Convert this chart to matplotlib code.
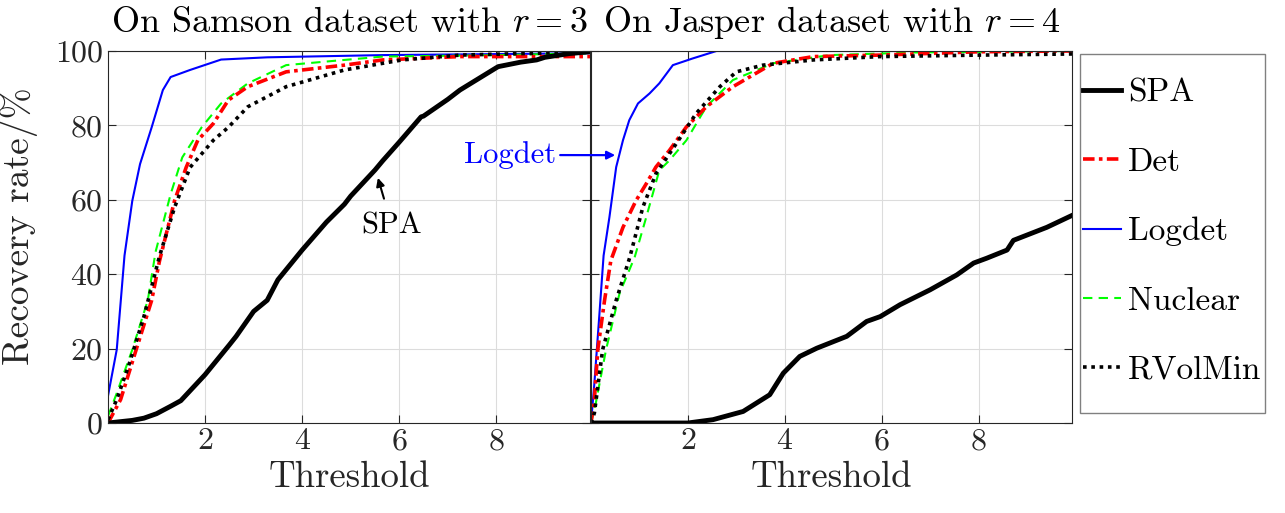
import matplotlib
matplotlib.use('Agg')
import matplotlib.pyplot as plt
from matplotlib.patches import Rectangle

plt.rcParams['font.family'] = 'serif'
plt.rcParams['font.serif'] = ['cmr10']
plt.rcParams['mathtext.fontset'] = 'cm'
plt.rcParams['axes.formatter.use_mathtext'] = True

# Samson, r = 3
sam_spa_x = [0, 0.5, 0.74, 1, 1.29, 1.5, 2, 2.5, 2.64, 3, 3.28, 3.5, 4, 4.5, 4.87, 5, 5.5, 5.66,
             6, 6.45, 6.5, 7, 7.25, 7.5, 8, 8.04, 8.5, 8.83, 9, 9.5, 9.93]
sam_spa_y = [0, 0.7, 1.3, 2.5, 4.5, 6, 13, 21, 23.3, 30, 33, 38.5, 46.5, 54, 58.8, 61, 68, 70.5,
             75.5, 82.3, 82.5, 87, 89.5, 91.5, 95.5, 95.8, 97, 97.6, 98.3, 99.3, 99.8]
sam_det_x = [0, 0.26, 0.58, 0.9, 1.06, 1.37, 1.61, 1.85, 2.17, 2.48, 2.88, 3.67, 4.87, 5.66, 7.25, 9.93]
sam_det_y = [0, 6.3, 19.7, 33, 43.5, 59.7, 68.7, 76, 80.5, 86.8, 90.4, 94.4, 96.2, 97.6, 98.5, 98.5]
sam_log_x = [0, 0.18, 0.34, 0.5, 0.66, 0.9, 1.13, 1.29, 1.69, 2.33, 3.28, 5.66, 9.93]
sam_log_y = [7.3, 19.7, 45, 59.7, 69.6, 79.5, 89.5, 93, 94.9, 97.7, 98.3, 98.9, 99.4]
sam_nuc_x = [0, 0.18, 0.5, 0.82, 0.98, 1.29, 1.53, 1.93, 2.33, 2.88, 3.67, 4.87, 5.66, 8.04, 9.93]
sam_nuc_y = [1.8, 8, 19.7, 33, 46, 61.5, 71.4, 79.5, 85.9, 91.3, 96.2, 97.6, 98.5, 98.9, 99.4]
sam_rvm_x = [0, 0.18, 0.42, 0.74, 1.06, 1.37, 1.69, 2.17, 2.48, 2.88, 3.67, 4.87, 6.06, 7.25, 8.83, 9.93]
sam_rvm_y = [0.9, 6.3, 15.2, 28.6, 44.8, 57.9, 68.7, 76, 79.5, 85, 90.4, 94.9, 97.6, 98.9, 99.4, 99.8]

# Jasper, r = 4
jas_spa_x = [0, 2, 2.52, 3.14, 3.69, 3.97, 4.31, 4.66, 5.28, 5.69, 5.97, 6.38, 7.0, 7.55, 7.9,
             8.17, 8.59, 8.72, 9.41, 9.93]
jas_spa_y = [0, 0, 0.9, 3.1, 7.6, 13.4, 17.9, 20.1, 23.3, 27.3, 28.6, 31.8, 35.8, 39.8, 43,
             44.3, 46.5, 49.1, 52.6, 55.8]
jas_det_x = [0, 0.07, 0.14, 0.28, 0.41, 0.66, 0.93, 1.14, 1.34, 1.62, 1.97, 2.38, 2.93, 3.76,
             4.59, 5.97, 8.03, 9.93]
jas_det_y = [0, 6.3, 19.7, 33, 43.7, 52.6, 59.8, 64.3, 68.8, 73.3, 79.6, 85, 90.4, 96.7,
             98.5, 98.9, 99.8, 100]
jas_log_x = [0, 0.07, 0.17, 0.26, 0.38, 0.52, 0.66, 0.79, 0.97, 1.21, 1.41, 1.69, 2.1, 2.59, 9.93]
jas_log_y = [0, 10.7, 28.6, 45, 55.3, 68.8, 76, 81.4, 85.9, 88.6, 91.3, 96.2, 98, 100, 100]
jas_nuc_x = [0, 0.1, 0.31, 0.59, 0.9, 1.14, 1.41, 1.62, 1.97, 2.38, 2.93, 3.76, 4.93, 6.66, 9.93]
jas_nuc_y = [0, 5.4, 19.7, 34.9, 44.5, 55.3, 67.9, 70.6, 76, 85, 92.2, 96.7, 98.9, 99.6, 100]
jas_rvm_x = [0, 0.07, 0.24, 0.52, 0.8, 1.07, 1.34, 1.76, 2.17, 2.66, 3.0, 3.55, 4.59, 5.97, 8.03, 9.93]
jas_rvm_y = [0, 2.7, 19.7, 33, 44.5, 58, 67, 75.1, 83.2, 90.4, 94.4, 96.2, 97.6, 98.5, 98.9, 99.2]

methods = ['SPA', 'Det', 'Logdet', 'Nuclear', 'RVolMin']
styles = {
    'SPA': dict(color='black', ls='-', lw=3.5),
    'Det': dict(color='red', ls=(0, (3.2, 1.2, 1, 1.2)), lw=2.6),
    'Logdet': dict(color='blue', ls='-', lw=1.5),
    'Nuclear': dict(color=(0, 1, 0), ls=(0, (4.5, 3)), lw=1.5),
    'RVolMin': dict(color='black', ls=(0, (1, 1.3)), lw=2.6),
}
samson = {
    'SPA': (sam_spa_x, sam_spa_y), 'Det': (sam_det_x, sam_det_y), 'Logdet': (sam_log_x, sam_log_y),
    'Nuclear': (sam_nuc_x, sam_nuc_y), 'RVolMin': (sam_rvm_x, sam_rvm_y),
}
jasper = {
    'SPA': (jas_spa_x, jas_spa_y), 'Det': (jas_det_x, jas_det_y), 'Logdet': (jas_log_x, jas_log_y),
    'Nuclear': (jas_nuc_x, jas_nuc_y), 'RVolMin': (jas_rvm_x, jas_rvm_y),
}

fig = plt.figure(figsize=(12.85, 5.13), dpi=100)
ax1 = fig.add_axes([108 / 1285, 1 - 423 / 513, 482 / 1285, 372 / 513])
ax2 = fig.add_axes([591 / 1285, 1 - 423 / 513, 481 / 1285, 372 / 513])

tick_col = '#262626'
for ax, data, title in [(ax1, samson, r'On Samson dataset with $r=3$'),
                        (ax2, jasper, r'On Jasper dataset with $r=4$')]:
    for m in ['Logdet', 'Nuclear', 'Det', 'RVolMin', 'SPA']:
        x, y = data[m]
        ax.plot(x, y, label=m, **styles[m])
    ax.set_xlim(0, 9.93)
    ax.set_ylim(0, 100)
    ax.set_xticks([2, 4, 6, 8])
    ax.set_yticks([0, 20, 40, 60, 80, 100])
    ax.grid(True, color='#dcdcdc', lw=0.8)
    ax.set_axisbelow(True)
    ax.tick_params(direction='in', top=True, right=True, labelsize=23, colors=tick_col, length=6)
    for s in ax.spines.values():
        s.set_color(tick_col)
    ax.set_xlabel('Threshold', fontsize=26.5, color=tick_col, labelpad=4)
    ax.set_title(title, fontsize=26, pad=14)

ax1.set_ylabel(r'Recovery rate/%', fontsize=27, color=tick_col)
ax1.yaxis.set_label_coords(-0.145, 0.53)
ax2.tick_params(labelleft=False)

ax1.annotate('SPA', xy=(5.56, 65.9), xytext=(5.85, 53), fontsize=22, ha='center', va='center',
             arrowprops=dict(arrowstyle='-|>', color='black', lw=1.5, mutation_scale=12,
                             shrinkA=8, shrinkB=0))
ax2.annotate('Logdet', xy=(0.5, 72), xytext=(556 / 1285, 1 - 155 / 513), textcoords='figure fraction',
             fontsize=22, color='blue', ha='right', va='center', annotation_clip=False,
             arrowprops=dict(arrowstyle='-|>', color='blue', lw=1.6, mutation_scale=12,
                             shrinkA=1, shrinkB=0))

# legend box drawn separately, entries placed inside it
fig.patches.append(Rectangle((1080 / 1285, 1 - 413 / 513), 185 / 1285, 359 / 513,
                             transform=fig.transFigure, facecolor='white',
                             edgecolor='#808080', lw=1.0, zorder=0))
handles, labels = ax1.get_legend_handles_labels()
order = [labels.index(m) for m in methods]
leg = fig.legend([handles[i] for i in order], methods, loc='upper left',
                 bbox_to_anchor=(1083 / 1285, 1 - 78 / 513), fontsize=24, frameon=False,
                 handlelength=1.15, handletextpad=0.2, labelspacing=1.2,
                 borderpad=0, borderaxespad=0)

fig.savefig('out.png', dpi=100)
